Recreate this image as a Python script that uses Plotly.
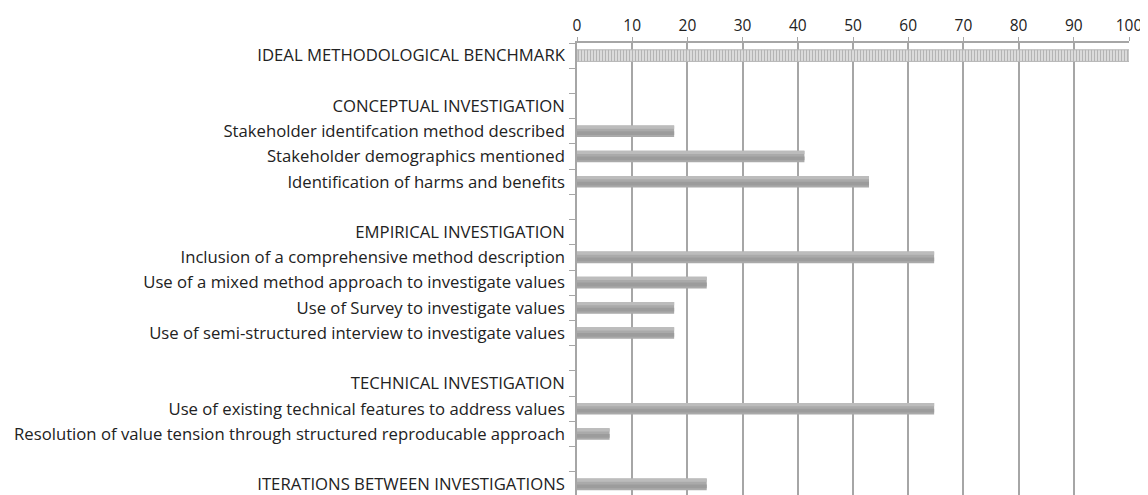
import plotly.graph_objects as go

categories = [
    "IDEAL METHODOLOGICAL BENCHMARK",
    " ",
    "CONCEPTUAL INVESTIGATION",
    "Stakeholder identifcation method described",
    "Stakeholder demographics mentioned",
    "Identification of harms and benefits",
    "  ",
    "EMPIRICAL INVESTIGATION",
    "Inclusion of a comprehensive method description",
    "Use of a mixed method approach to investigate values",
    "Use of Survey to investigate values",
    "Use of semi-structured interview to investigate values",
    "   ",
    "TECHNICAL INVESTIGATION",
    "Use of existing technical features to address values",
    "Resolution of value tension through structured reproducable approach",
    "    ",
    "ITERATIONS BETWEEN INVESTIGATIONS",
]
values = [None, None, None, 17.6, 41.2, 52.9, None, None, 64.7, 23.5, 17.6, 17.6,
          None, None, 64.7, 5.9, None, 23.5]
benchmark_category = ["IDEAL METHODOLOGICAL BENCHMARK"]
benchmark_value = [100]
x_ticks = [0, 10, 20, 30, 40, 50, 60, 70, 80, 90, 100]

fig = go.Figure()
# main bar body
fig.add_trace(go.Bar(
    y=categories, x=values, orientation="h", width=0.46, offset=-0.23,
    marker=dict(color="#aaaaaa", line=dict(width=0)),
    showlegend=False, hoverinfo="skip",
))
# lighter top band
fig.add_trace(go.Bar(
    y=categories, x=values, orientation="h", width=0.13, offset=-0.23,
    marker=dict(color="#bcbcbc", line=dict(width=0)),
    showlegend=False, hoverinfo="skip",
))
# darker middle band
fig.add_trace(go.Bar(
    y=categories, x=values, orientation="h", width=0.15, offset=0.0,
    marker=dict(color="#9c9c9c", line=dict(width=0)),
    showlegend=False,
))
fig.add_trace(go.Bar(
    y=benchmark_category, x=benchmark_value, orientation="h", width=0.46, offset=-0.23,
    marker=dict(color="#e2e2e2", line=dict(color="#b5b5b5", width=1),
                pattern=dict(shape="|", fgcolor="#858585", bgcolor="#e2e2e2",
                             size=3, solidity=0.45)),
    showlegend=False,
))
fig.update_layout(
    width=1148, height=495,
    margin=dict(l=568, r=27, t=30, b=6),
    paper_bgcolor="white", plot_bgcolor="white",
    barmode="overlay",
    font=dict(family="Open Sans", size=16.7, color="#222222"),
    xaxis=dict(side="top", range=[0, 100], tickvals=x_ticks,
               tickfont=dict(size=15.5),
               showgrid=True, gridcolor="#a6a6a6", gridwidth=1.5,
               showline=True, linecolor="#a6a6a6", linewidth=1.5,
               ticks="outside", ticklen=4, tickcolor="#a6a6a6",
               zeroline=False, fixedrange=True),
    yaxis=dict(categoryorder="array", categoryarray=categories,
               autorange="reversed", showgrid=False,
               showline=True, linecolor="#a6a6a6", linewidth=1.5,
               ticks="outside", ticklen=6, tickcolor="#a6a6a6",
               tickson="boundaries", ticklabelstandoff=7, fixedrange=True),
)
fig.write_html("out.html")
